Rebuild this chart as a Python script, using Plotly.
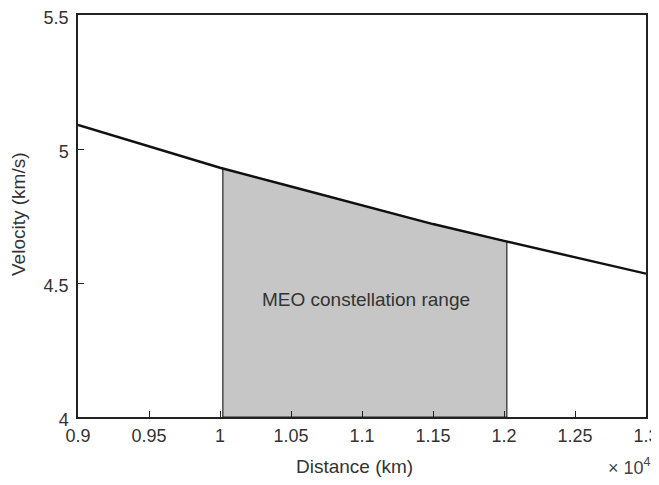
import plotly.graph_objects as go

# distance (x 10^4 km) and orbital velocity (km/s)
distance = [0.90, 0.95, 1.00, 1.05, 1.10, 1.15, 1.20, 1.25, 1.30]
velocity = [5.09, 5.01, 4.93, 4.86, 4.79, 4.72, 4.657, 4.595, 4.535]

# MEO constellation band edges (x 10^4 km)
meo_start = 1.002
meo_end = 1.202
meo_label = "MEO constellation range"

x_ticks = [0.9, 0.95, 1.0, 1.05, 1.1, 1.15, 1.2, 1.25, 1.3]
x_labels = ["0.9", "0.95", "1", "1.05", "1.1", "1.15", "1.2", "1.25", "1.3"]
y_ticks = [4, 4.5, 5, 5.5]
y_labels = ["4", "4.5", "5", "5.5"]


def vel_at(x):
    # read along the plotted curve between the listed points
    for i in range(len(distance) - 1):
        if distance[i] <= x <= distance[i + 1]:
            t = (x - distance[i]) / (distance[i + 1] - distance[i])
            return velocity[i] + t * (velocity[i + 1] - velocity[i])
    return velocity[-1]


band_x = [meo_start] + [d for d in distance if meo_start < d < meo_end] + [meo_end]
band_y = [vel_at(x) for x in band_x]

fig = go.Figure()

# shaded MEO region with black edges
fig.add_trace(go.Scatter(
    x=[meo_start] + band_x + [meo_end, meo_start],
    y=[4] + band_y + [4, 4],
    fill="toself",
    fillcolor="#c6c6c6",
    line=dict(color="#222222", width=1.2),
    mode="lines",
    hoverinfo="skip",
))

# velocity curve
fig.add_trace(go.Scatter(
    x=distance, y=velocity,
    mode="lines",
    line=dict(color="#111111", width=2.4),
))

fig.add_annotation(
    x=1.103, y=4.44, text=meo_label, showarrow=False,
    font=dict(size=19, color="#333333"),
)

# page body has an 8px margin, so the figure is drawn 8px smaller
W, H = 651, 477
L, T, R, B = 70, 7, 13, 68
pw, ph = W - L - R, H - T - B

# axis titles and exponent placed as annotations for exact positioning
fig.add_annotation(
    xref="paper", yref="paper", x=(354 - 8 - L) / pw, y=-(466 - 8 - (H - B)) / ph,
    xanchor="center", yanchor="middle",
    text="Distance (km)", showarrow=False,
    font=dict(size=19, color="#333333"),
)
fig.add_annotation(
    xref="paper", yref="paper", x=-(L - (18 - 8)) / pw, y=((H - B) - (214 - 8)) / ph,
    xanchor="center", yanchor="middle", textangle=-90,
    text="Velocity (km/s)", showarrow=False,
    font=dict(size=19, color="#333333"),
)
fig.add_annotation(
    xref="paper", yref="paper", x=(W - 6 - L) / pw, y=-(466 - 8 - (H - B)) / ph,
    xanchor="right", yanchor="middle",
    text="\u00d7 10<sup>4</sup>", showarrow=False,
    font=dict(size=18, color="#444444"),
)

axis_style = dict(
    showline=True, mirror=True, linecolor="#222222", linewidth=1.5,
    ticks="inside", ticklen=6, tickcolor="#222222",
    showgrid=False, zeroline=False, automargin=False,
    ticklabeloverflow="allow",
    tickfont=dict(size=18, color="#333333"),
)

fig.update_layout(
    width=W, height=H,
    margin=dict(l=L, r=R, t=T, b=B),
    plot_bgcolor="white", paper_bgcolor="white",
    showlegend=False,
    font=dict(family="Liberation Sans, Arial, sans-serif", color="#333333"),
)
fig.update_xaxes(
    range=[0.9, 1.3], tickvals=x_ticks, ticktext=x_labels,
    ticklabelstandoff=2,
    **axis_style,
)
fig.update_yaxes(
    range=[4, 5.5], tickvals=y_ticks, ticktext=y_labels,
    ticklabelstandoff=4, ticklabelshift=3,
    **axis_style,
)

fig.write_html("out.html")
